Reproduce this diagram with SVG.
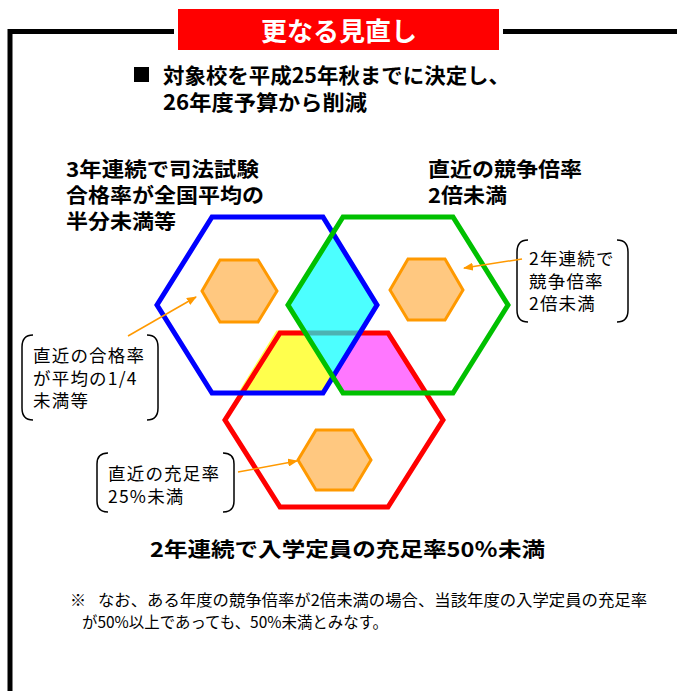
<svg xmlns="http://www.w3.org/2000/svg" width="677" height="691" viewBox="0 0 677 691">
<style>
text{font-family:"Noto Sans CJK JP","Liberation Sans",sans-serif;fill:#000}
.b{font-weight:bold}
.head{font-size:20.5px;font-weight:bold}
.call{font-size:17.5px;letter-spacing:1.2px}
.brk{fill:none;stroke:#000;stroke-width:1.5}
.big{fill:none;stroke-width:5;stroke-linejoin:miter}
.small{fill:#FFC880;stroke:#FF9900;stroke-width:3}
.arr{stroke:#FF9900;stroke-width:1.5;fill:none}
</style>
<defs>
<marker id="ah" markerWidth="10" markerHeight="8" refX="9" refY="4" orient="auto" markerUnits="userSpaceOnUse">
<path d="M0,0 L10,4 L0,8 Z" fill="#FF9900"/>
</marker>
</defs>
<rect width="677" height="691" fill="#fff"/>
<g id="frame">
<path d="M10,691 V31.5 H174" fill="none" stroke="#000" stroke-width="5"/>
<path d="M503,31.5 H677" fill="none" stroke="#000" stroke-width="5"/>
</g>
<g id="title">
<rect x="178" y="9" width="321" height="41" fill="#FF0000"/>
<text x="339" y="41" text-anchor="middle" font-size="26" font-weight="bold" style="fill:#fff">更なる見直し</text>
</g>
<g id="intro">
<rect x="134" y="67" width="15" height="15" fill="#000"/>
<text class="b" x="163" y="83" font-size="21" textLength="347" lengthAdjust="spacingAndGlyphs">対象校を平成25年秋までに決定し、</text>
<text class="b" x="163" y="110" font-size="21" textLength="204" lengthAdjust="spacingAndGlyphs">26年度予算から削減</text>
</g>
<g id="label-left">
<text class="head" x="66" y="177" textLength="193" lengthAdjust="spacingAndGlyphs">3年連続で司法試験</text>
<text class="head" x="66" y="203" textLength="198" lengthAdjust="spacingAndGlyphs">合格率が全国平均の</text>
<text class="head" x="66" y="229" textLength="110" lengthAdjust="spacingAndGlyphs">半分未満等</text>
</g>
<g id="label-right">
<text class="head" x="428" y="177" textLength="154" lengthAdjust="spacingAndGlyphs">直近の競争倍率</text>
<text class="head" x="428" y="203" textLength="79" lengthAdjust="spacingAndGlyphs">2倍未満</text>
</g>
<g id="overlaps">
<polygon points="276.5,330.5 306,330.5 333,377 323,393 238,393" fill="#FFFF4D"/>
<polygon points="360,333 388,333 426,393 343,393 333,377" fill="#FF77FF"/>
</g>
<g id="hex-red">
<polygon class="big" stroke="#FF0000" points="280,333 388,333 443,420 388,507 280,507 225,420"/>
</g>
<g id="overlap-cyan">
<polygon points="333,233 377,305 333,377 288,305" fill="#00FFFF" fill-opacity="0.7"/>
</g>
<g id="hex-blue">
<polygon class="big" stroke="#0000FF" points="212,217 323,217 377,305 323,393 212,393 157,305"/>
</g>
<g id="hex-green">
<polygon class="big" stroke="#00C000" points="343,217 453,217 508,305 453,393 343,393 288,305"/>
</g>
<g id="hex-small-left">
<polygon class="small" points="220,260 258,260 277,291 258,322 220,322 202,291"/>
</g>
<g id="hex-small-right">
<polygon class="small" points="408,259 445,259 463,290 445,320 408,320 390,290"/>
</g>
<g id="hex-small-bottom">
<polygon class="small" points="316,430 353,430 371,460 353,490 316,490 298,460"/>
</g>
<g id="callout-left">
<path class="brk" d="M33,335 Q22,335 22,347 V408 Q22,420 33,420"/>
<path class="brk" d="M147,335 Q158,335 158,347 V408 Q158,420 147,420"/>
<text class="call" x="33" y="362">直近の合格率</text>
<text class="call" x="33" y="385">が平均の1/4</text>
<text class="call" x="33" y="407">未満等</text>
</g>
<g id="callout-right">
<path class="brk" d="M528,240 Q517,240 517,252 V310 Q517,322 528,322"/>
<path class="brk" d="M617,240 Q628,240 628,252 V310 Q628,322 617,322"/>
<text class="call" x="529" y="265">2年連続で</text>
<text class="call" x="529" y="288">競争倍率</text>
<text class="call" x="529" y="310">2倍未満</text>
</g>
<g id="callout-bottom">
<path class="brk" d="M108,453 Q97,453 97,464 V501 Q97,512 108,512"/>
<path class="brk" d="M223,453 Q234,453 234,464 V501 Q234,512 223,512"/>
<text class="call" x="108" y="480">直近の充足率</text>
<text class="call" x="108" y="503">25%未満</text>
</g>
<g id="connectors">
<line class="arr" x1="128" y1="336" x2="196" y2="297" marker-end="url(#ah)"/>
<line class="arr" x1="522" y1="259" x2="464" y2="268" marker-end="url(#ah)"/>
<line class="arr" x1="238" y1="472" x2="297" y2="461" marker-end="url(#ah)"/>
</g>
<g id="label-bottom">
<text class="head" x="150" y="557" textLength="395" lengthAdjust="spacingAndGlyphs">2年連続で入学定員の充足率50％未満</text>
</g>
<g id="note">
<text x="70" y="606" font-size="16">※</text>
<text x="98" y="606" font-size="15.5" textLength="549" lengthAdjust="spacingAndGlyphs">なお、ある年度の競争倍率が2倍未満の場合、当該年度の入学定員の充足率</text>
<text x="82" y="628" font-size="15.5" textLength="306" lengthAdjust="spacingAndGlyphs">が50%以上であっても、50%未満とみなす。</text>
</g>
</svg>
